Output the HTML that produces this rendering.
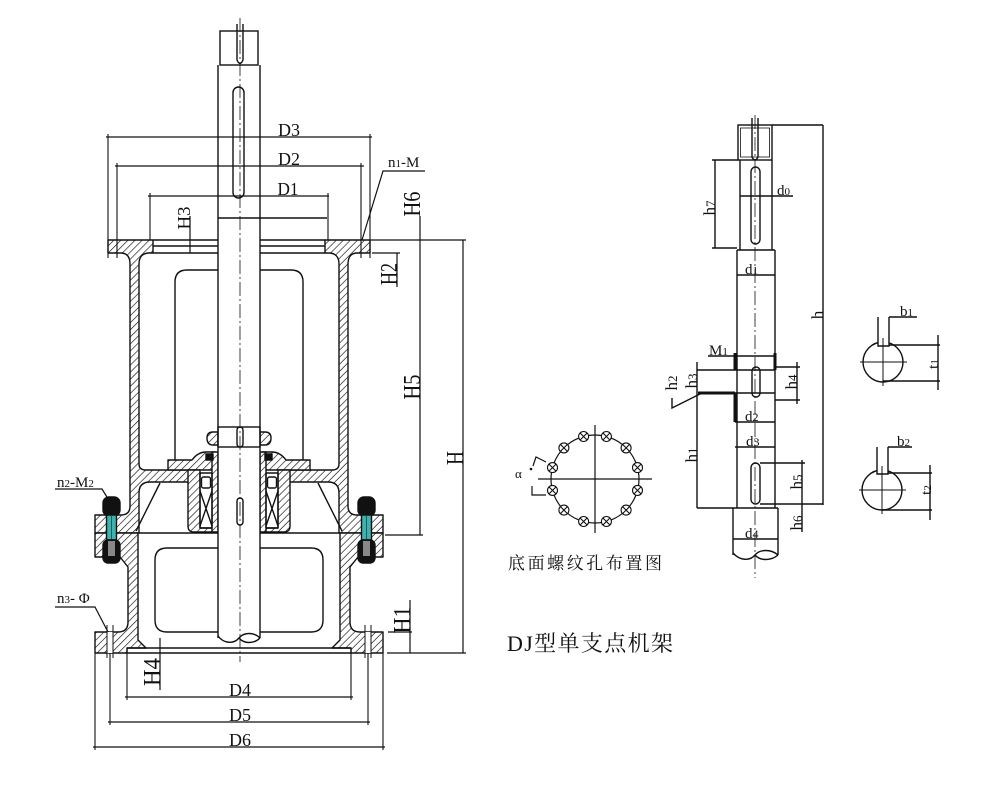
<!DOCTYPE html>
<html><head><meta charset="utf-8"><style>
html,body{margin:0;padding:0;background:#fff;}
svg{display:block;}
text{font-family:"Liberation Serif","Noto Serif CJK SC",serif;fill:#111;}
</style></head><body>
<svg width="1000" height="786" viewBox="0 0 1000 786" xmlns="http://www.w3.org/2000/svg">
<defs>
<pattern id="ht" patternUnits="userSpaceOnUse" width="5" height="5" patternTransform="rotate(45)">
<rect width="5" height="5" fill="#fff"/>
<line x1="0" y1="0" x2="0" y2="5" stroke="#111" stroke-width="1.3"/>
</pattern>
<pattern id="ht2" patternUnits="userSpaceOnUse" width="5" height="5" patternTransform="rotate(-45)">
<rect width="5" height="5" fill="#fff"/>
<line x1="0" y1="0" x2="0" y2="5" stroke="#111" stroke-width="1.3"/>
</pattern>
<g id="hole"><circle cx="0" cy="0" r="5"/><path d="M-3.5,-3.5 L3.5,3.5 M3.5,-3.5 L-3.5,3.5" fill="none"/></g>
<g id="half" stroke="#111" stroke-width="1.4" stroke-linejoin="round">
<path d="M108,240 H153 V253 H148 Q139,254 139,264 V464 Q139,470 146,470 H190 V482 H150 Q139,482 139,493 V533 H95 V515 H121 Q130,515 130,506 V264 Q130,254 122,253 H108 Z"/>
<path d="M95,533 H138 V640 L146,648 H127 V653 H95 V632 H118 Q128,632 128,622 V567 L120,557 H95 Z"/>
<path d="M168,460 H192 Q198,452 206,452 H215 V470 H168 Z"/>
<path d="M188,470 H200 V528 H215 V532 H194 Q188,532 188,526 Z"/>
<rect x="212" y="452" width="6" height="80"/>
<path d="M207,438 Q207,432 213,432 H218 V445 H213 Q207,445 207,438 Z"/>
<g fill="none">
<rect x="200" y="473" width="12" height="55"/>
<rect x="201.5" y="477" width="9" height="11" rx="2"/>
<path d="M200,491 L212,526 M212,491 L200,526"/>
<path d="M160,483 L136,531"/>
<path d="M175,460 V282 Q175,270 187,270 H239"/>
<path d="M239,548 H167 Q155,548 155,560 V620 Q155,632 167,632 H239"/>
<path d="M139,533 H239"/>
<path d="M127,648 H239 M127,653 H239"/>
<path d="M153,246 H239 M153,240 H239 M153,253 H239"/>
<rect x="107" y="632" width="6" height="21" fill="#fff" stroke="none"/>
<path d="M107,625 V658 M113,625 V658" stroke-width="1"/>
<path d="M108,134 V258 M117,163 V258 M150,193 V240 M127,648 V700 M110,653 V725 M95,653 V750" stroke-width="1.1"/>
</g>
<rect x="206" y="454" width="7" height="6" fill="#111"/>
<rect x="103" y="497" width="17" height="19" rx="6" fill="#111"/>
<rect x="106.5" y="515" width="10" height="25" fill="#3db3ad"/>
<line x1="111.5" y1="516" x2="111.5" y2="539" stroke="#1a5f5c" stroke-width="1"/>
<rect x="103" y="540" width="17" height="23" rx="5" fill="#111"/>
<rect x="108" y="541" width="7" height="15" fill="#888" stroke="none"/>
</g>
</defs>
<rect width="1000" height="786" fill="#fff"/>

<use href="#half" fill="url(#ht)"/>
<use href="#half" fill="url(#ht2)" transform="translate(478,0) scale(-1,1)"/>

<!-- shaft -->
<rect x="218" y="65" width="42" height="573" fill="#fff"/>
<g fill="none" stroke="#111" stroke-width="1.4">
<path d="M218,65 V638 M260,65 V638"/>
<rect x="220" y="31" width="38" height="34" fill="#fff"/>
<path d="M237,24 V60 Q240,67 243,60 V24"/>
<rect x="233" y="87" width="11" height="111" rx="5.5"/>
<path d="M218,218 H327"/>
<rect x="218" y="427" width="42" height="20"/>
<rect x="237" y="427" width="6" height="20" rx="3"/>
<rect x="237" y="498" width="6" height="27" rx="3"/>
<path d="M218,636 C224,644 234,644 239,638 C244,644 254,644 260,638 M239,638 C244,632 254,632 260,638"/>
</g>
<path d="M240,18 V662" stroke="#111" stroke-width="0.8" stroke-dasharray="14 3 2 3" fill="none"/>

<!-- dimensions main -->
<g fill="none" stroke="#111" stroke-width="1.2">
<path d="M106,137 H372 M115,166 H364 M148,196 H329"/>
<path d="M125,697 H353 M108,722 H370 M93,747 H385"/>
<path d="M425,171 H383 L362,240"/>
<path d="M55,489 H102 L110,502"/>
<path d="M55,607 H95 L108,632"/>
<path d="M370,240 H466 M372,253 H400 M385,535 H423 M387,653 H466 M388,632 H412"/>
<path d="M420,216 V535 M463,240 V653 M397,253 V287 M410,600 V653 M190,216 V253 M160,638 V690"/>
</g>
<g font-size="18" text-anchor="middle">
<text x="289" y="136" textLength="22" lengthAdjust="spacingAndGlyphs">D3</text>
<text x="289" y="165" textLength="22" lengthAdjust="spacingAndGlyphs">D2</text>
<text x="288" y="195" textLength="21" lengthAdjust="spacingAndGlyphs">D1</text>
<text x="240" y="696" textLength="22" lengthAdjust="spacingAndGlyphs">D4</text>
<text x="240" y="721" textLength="22" lengthAdjust="spacingAndGlyphs">D5</text>
<text x="240" y="746" textLength="22" lengthAdjust="spacingAndGlyphs">D6</text>
<text transform="translate(190,218) rotate(-90)" textLength="23" lengthAdjust="spacingAndGlyphs">H3</text>
</g>
<g font-size="24" text-anchor="middle">
<text transform="translate(420,204) rotate(-90)" textLength="25" lengthAdjust="spacingAndGlyphs">H6</text>
<text transform="translate(397,274) rotate(-90)" textLength="22" lengthAdjust="spacingAndGlyphs">H2</text>
<text transform="translate(420,387) rotate(-90)" textLength="25" lengthAdjust="spacingAndGlyphs">H5</text>
<text transform="translate(463,458) rotate(-90)" textLength="14" lengthAdjust="spacingAndGlyphs">H</text>
<text transform="translate(410,620) rotate(-90)" textLength="27" lengthAdjust="spacingAndGlyphs">H1</text>
<text transform="translate(160,672) rotate(-90)" textLength="28" lengthAdjust="spacingAndGlyphs">H4</text>
</g>
<g font-size="15">
<text x="388" y="167">n<tspan font-size="11">1</tspan>-M</text>
<text x="57" y="487">n<tspan font-size="11">2</tspan>-M<tspan font-size="11">2</tspan></text>
<text x="57" y="603">n<tspan font-size="11">3</tspan>- Φ</text>
</g>

<!-- right shaft -->
<g fill="none" stroke="#111" stroke-width="1.4">
<rect x="738" y="125" width="34" height="35"/>
<rect x="740.5" y="128" width="29" height="29" stroke-width="0.8"/>
<path d="M752,118 V157 Q755,163 758,157 V118"/>
<path d="M740,160 V250 M772,160 V250"/>
<rect x="751" y="167" width="9" height="77" rx="4.5"/>
<path d="M737,250 H775"/>
<path d="M737,250 V508 M775,250 V508"/>
<path d="M735,353 V370 M775,353 V370" stroke-width="3"/>
<path d="M735,393 V422" stroke-width="3"/>
<path d="M698,393 H735" stroke-width="3"/>
<path d="M735,393 H775"/>
<path d="M697,370 H775"/>
<rect x="752" y="367" width="8" height="30" rx="4"/>
<path d="M733,508 V555 M778,508 V555"/>
<path d="M697,508 H778"/>
<rect x="751" y="463" width="9" height="41" rx="4.5"/>
<path d="M760,463 H805 M760,504 H823 M802,460 V532"/>
<path d="M772,125 H823 M823,125 V505"/>
<path d="M712,160 H738 M712,248 H737 M715,160 V248"/>
<path d="M740,196 H793 M737,275 H775 M735,422 H775 M735,447 H775 M733,539 H778"/>
<path d="M775,367 H800 M775,400 H800 M797,362 V404"/>
<path d="M697,362 V508"/>
<path d="M672,398 V408 L700,394"/>
<path d="M708,356 H775"/>
<path d="M733,553 C740,561 750,561 755,555 C760,561 771,561 778,555 M755,555 C760,549 771,549 778,555"/>
</g>
<path d="M755,115 V578" stroke="#111" stroke-width="0.8" stroke-dasharray="14 3 2 3" fill="none"/>
<g font-size="15">
<text x="777" y="195">d<tspan font-size="11">0</tspan></text>
<text x="745" y="274">d<tspan font-size="11">1</tspan></text>
<text x="745" y="421">d<tspan font-size="12">2</tspan></text>
<text x="746" y="446">d<tspan font-size="12">3</tspan></text>
<text x="745" y="538">d<tspan font-size="12">4</tspan></text>
<text x="709" y="355">M<tspan font-size="11">1</tspan></text>
</g>
<g font-size="17" text-anchor="middle">
<text transform="translate(715,208) rotate(-90)">h<tspan font-size="13">7</tspan></text>
<text transform="translate(823,315) rotate(-90)">h</text>
<text transform="translate(697,381) rotate(-90)">h<tspan font-size="13">3</tspan></text>
<text transform="translate(677,383) rotate(-90)">h<tspan font-size="13">2</tspan></text>
<text transform="translate(697,455) rotate(-90)">h<tspan font-size="13">1</tspan></text>
<text transform="translate(797,382) rotate(-90)">h<tspan font-size="13">4</tspan></text>
<text transform="translate(802,482) rotate(-90)">h<tspan font-size="13">5</tspan></text>
<text transform="translate(802,523) rotate(-90)">h<tspan font-size="13">6</tspan></text>
</g>

<!-- keyway sections -->
<g fill="none" stroke="#111" stroke-width="1.4">
<circle cx="883" cy="362" r="20"/>
<rect x="878" y="340" width="11" height="6" fill="#fff" stroke="none"/>
<path d="M878,317 V346 H889 V317 M889,317 H917"/>
<path d="M889,345 H940 M883,381 H940 M938,335 V390"/>
<path d="M860,362 H907 M883,338 V386" stroke-width="1"/>
<circle cx="882" cy="490" r="20"/>
<rect x="877" y="468" width="11" height="6" fill="#fff" stroke="none"/>
<path d="M877,447 V474 H888 V447 M888,447 H912"/>
<path d="M888,473 H932 M882,510 H932 M930,465 V520"/>
<path d="M859,490 H906 M882,466 V514" stroke-width="1"/>
</g>
<g font-size="15">
<text x="900" y="316">b<tspan font-size="11">1</tspan></text>
<text x="897" y="446">b<tspan font-size="11">2</tspan></text>
<text transform="translate(938,364) rotate(-90)" text-anchor="middle">t<tspan font-size="11">1</tspan></text>
<text transform="translate(931,490) rotate(-90)" text-anchor="middle">t<tspan font-size="11">2</tspan></text>
</g>

<!-- bolt circle -->
<g fill="none" stroke="#111" stroke-width="1.2">
<circle cx="595" cy="479" r="44"/>
<path d="M538,479 H652 M595,425 V533"/>
<path d="M546,462 L536,457 L533,466 M532,486 V495 H546"/>
</g>
<circle cx="531" cy="469" r="1.3" fill="#111"/>
<g fill="#fff" stroke="#111" stroke-width="1.1">
<use href="#hole" transform="translate(606.4,436.5)"/>
<use href="#hole" transform="translate(626.1,447.9)"/>
<use href="#hole" transform="translate(637.5,467.6)"/>
<use href="#hole" transform="translate(637.5,490.4)"/>
<use href="#hole" transform="translate(626.1,510.1)"/>
<use href="#hole" transform="translate(606.4,521.5)"/>
<use href="#hole" transform="translate(583.6,521.5)"/>
<use href="#hole" transform="translate(563.9,510.1)"/>
<use href="#hole" transform="translate(552.5,490.4)"/>
<use href="#hole" transform="translate(552.5,467.6)"/>
<use href="#hole" transform="translate(563.9,447.9)"/>
<use href="#hole" transform="translate(583.6,436.5)"/>
</g>
<text x="515" y="478" font-size="13">α</text>
<text x="508" y="569" font-size="17" textLength="154" lengthAdjust="spacing">底面螺纹孔布置图</text>
<text x="507" y="651" font-size="22" textLength="166" lengthAdjust="spacing">DJ型单支点机架</text>
</svg>
</body></html>
